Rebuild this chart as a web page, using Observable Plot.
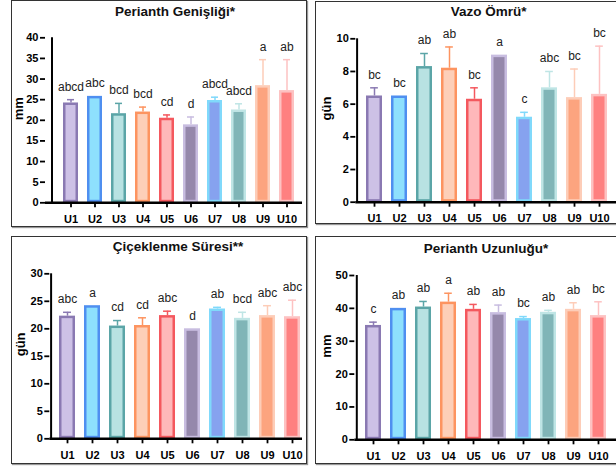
<!DOCTYPE html>
<html>
<head>
<meta charset="utf-8">
<script src="https://cdn.jsdelivr.net/npm/d3@7"></script>
<script src="https://cdn.jsdelivr.net/npm/@observablehq/plot@0.6"></script>
<style>
  html, body { margin: 0; padding: 0; background: #fff; overflow: hidden; }
  #root { position: relative; width: 616px; height: 466px; overflow: hidden; font-family: "Liberation Sans", Arial, sans-serif; }
  .box { position: absolute; border: 1.5px solid #333; box-shadow: 1px 1px 1px #999; box-sizing: border-box; }
  .title { position: absolute; width: 300px; text-align: center; font-weight: bold; font-size: 13.5px; line-height: 16px; color: #111; }
  .plot { position: absolute; }
  .plot svg { overflow: visible; max-width: none !important; display: block; }
</style>
</head>
<body>
<div id="root"></div>
<script>
const categories = ["U1","U2","U3","U4","U5","U6","U7","U8","U9","U10"];
const fills   = ["#cdc1e6","#8ee0fd","#b8e2e2","#fdcfb8","#feb8ba","#9588ab","#86a2ef","#80b5b7","#fca47f","#fe8080"];
const strokes = ["#8a79b2","#4f8ff0","#5ba5a7","#fd9460","#f4585e","#c8bde0","#80d9fb","#bfe5e5","#fdcdb8","#fdc2c2"];

const genislikMean = [24.2,25.8,21.6,22.0,20.5,18.9,24.8,22.5,28.4,27.2];
const genislikErr  = [0.8,0,2.5,1.2,0.8,1.9,0.8,1.5,6.3,7.5];
const genislikLetters = ["abcd","abc","bcd","bcd","cd","d","abcd","abcd","a","ab"];

const vazoMean = [6.5,6.5,8.3,8.2,6.3,9.0,5.2,7.0,6.4,6.6];
const vazoErr  = [0.5,0,0.8,1.3,0.7,0,0.3,1.0,1.75,2.95];
const vazoLetters = ["bc","bc","ab","ab","bc","a","c","abc","bc","bc"];

const cicekMean = [22.3,24.2,20.5,20.6,22.4,20.0,23.6,21.9,22.4,22.2];
const cicekErr  = [0.7,0,1.0,1.4,0.8,0,0.3,1.1,1.8,3.0];
const cicekLetters = ["abc","a","cd","cd","abc","d","ab","bcd","abc","abc"];

const uzunMean = [34.8,40.0,40.4,41.9,39.7,38.7,36.9,38.8,39.7,37.8];
const uzunErr  = [1.0,0,1.7,2.7,1.5,2.3,0.6,0.6,2.0,4.2];
const uzunLetters = ["c","ab","ab","a","ab","ab","bc","ab","ab","bc"];

const root = document.getElementById("root");

function panel(o) {
  const box = document.createElement("div");
  box.className = "box";
  Object.assign(box.style, {left: o.bl + "px", top: o.bt + "px", width: (o.br - o.bl) + "px", height: (o.bb - o.bt) + "px"});
  root.appendChild(box);

  const left = o.bl, top = o.bt, width = o.svgRight - o.bl, height = o.bb - o.bt;
  const step = (o.c10 - o.c1) / 9;
  const bw = 0.64 * step;
  const leftPad = o.c1 - bw / 2 - o.axisX;
  const rightPad = o.axisEnd - o.c10 - bw / 2;
  const po = (leftPad + rightPad) / (2 * step);
  const align = leftPad / (leftPad + rightPad);

  const rows = categories.map((c, i) => ({
    cat: c, mean: o.mean[i], err: o.err[i], top: o.mean[i] + o.err[i],
    letter: o.letters[i], fill: fills[i], stroke: strokes[i]
  }));
  const withErr = rows.filter(d => d.err > 0);

  const chart = Plot.plot({
    width, height,
    marginLeft: o.axisX - left,
    marginRight: width - (o.axisEnd - left),
    marginTop: o.yTopPx - top,
    marginBottom: top + height - o.y0,
    style: {fontFamily: "Liberation Sans, Arial, sans-serif", background: "transparent", color: "#000", maxWidth: "none"},
    x: {domain: categories, paddingInner: 0.36, paddingOuter: po, align},
    y: {domain: [0, o.yMax]},
    color: {type: "identity"},
    marks: [
      Plot.ruleX(withErr, {x: "cat", y1: "mean", y2: "top", stroke: "stroke", strokeWidth: 1.5}),
      Plot.tickY(withErr, {x: "cat", y: "top", stroke: "stroke", strokeWidth: 1.5, inset: (bw - 8) / 2}),
      Plot.barY(rows, {x: "cat", y: "mean", fill: "fill", stroke: "stroke", strokeWidth: 2.5, inset: 1.25}),
      Plot.ruleY([0], {stroke: "#000", strokeWidth: 2.5}),
      Plot.ruleX([categories[0]], {x: d => d, dx: o.axisX - o.c1, y1: 0, y2: o.yMax, stroke: "#000", strokeWidth: 2}),
      Plot.axisY({ticks: d3.range(0, o.yMax + o.yStep / 2, o.yStep), tickSize: 5, tickPadding: 2,
        fontWeight: "bold", fontSize: 11, strokeWidth: 1.8, label: null, fill: "#000"}),
      Plot.axisX({tickSize: 5, tickPadding: 7, fontWeight: "bold", fontSize: 11, strokeWidth: 1.8, label: null, fill: "#000"}),
      Plot.text(rows, {x: "cat", y: "top", text: "letter", dy: -13, fontSize: 12, fill: "#222", lineAnchor: "middle"}),
      Plot.text([o.ylabel], {frameAnchor: "left", dx: o.ylabelX - o.axisX, rotate: -90, fontWeight: "bold", fontSize: 13, fill: "#000"})
    ]
  });
  chart.style.maxWidth = "none";
  const wrap = document.createElement("div");
  wrap.className = "plot";
  Object.assign(wrap.style, {left: left + "px", top: top + "px", width: width + "px", height: height + "px"});
  wrap.appendChild(chart);
  root.appendChild(wrap);

  const t = document.createElement("div");
  t.className = "title";
  t.textContent = o.title;
  Object.assign(t.style, {left: (o.titleX - 150) + "px", top: (o.titleY - 8) + "px"});
  root.appendChild(t);
}

panel({bl: 11, bt: 0, br: 307, bb: 227, svgRight: 307,
  axisX: 45, c1: 64, c10: 289, axisEnd: 302, y0: 202.3, yTopPx: 37.3, yMax: 40, yStep: 5,
  ylabel: "mm", ylabelX: 18, title: "Perianth Genişliği*", titleX: 175, titleY: 12,
  mean: genislikMean, err: genislikErr, letters: genislikLetters});

panel({bl: 315, bt: 1, br: 630, bb: 224, svgRight: 625,
  axisX: 355.3, c1: 372.7, c10: 601.7, axisEnd: 622, y0: 201.7, yTopPx: 38.3, yMax: 10, yStep: 2,
  ylabel: "gün", ylabelX: 326.5, title: "Vazo Ömrü*", titleX: 488.7, titleY: 12,
  mean: vazoMean, err: vazoErr, letters: vazoLetters});

panel({bl: 11, bt: 236, br: 307, bb: 464, svgRight: 307,
  axisX: 49.3, c1: 65.7, c10: 291.7, axisEnd: 302, y0: 438.3, yTopPx: 273.3, yMax: 30, yStep: 5,
  ylabel: "gün", ylabelX: 20, title: "Çiçeklenme Süresi**", titleX: 178, titleY: 247,
  mean: cicekMean, err: cicekErr, letters: cicekLetters});

panel({bl: 315, bt: 236, br: 630, bb: 464, svgRight: 625,
  axisX: 354.3, c1: 371, c10: 602, axisEnd: 622, y0: 439.3, yTopPx: 275, yMax: 50, yStep: 10,
  ylabel: "mm", ylabelX: 326, title: "Perianth Uzunluğu*", titleX: 486, titleY: 249,
  mean: uzunMean, err: uzunErr, letters: uzunLetters});
</script>
</body>
</html>
